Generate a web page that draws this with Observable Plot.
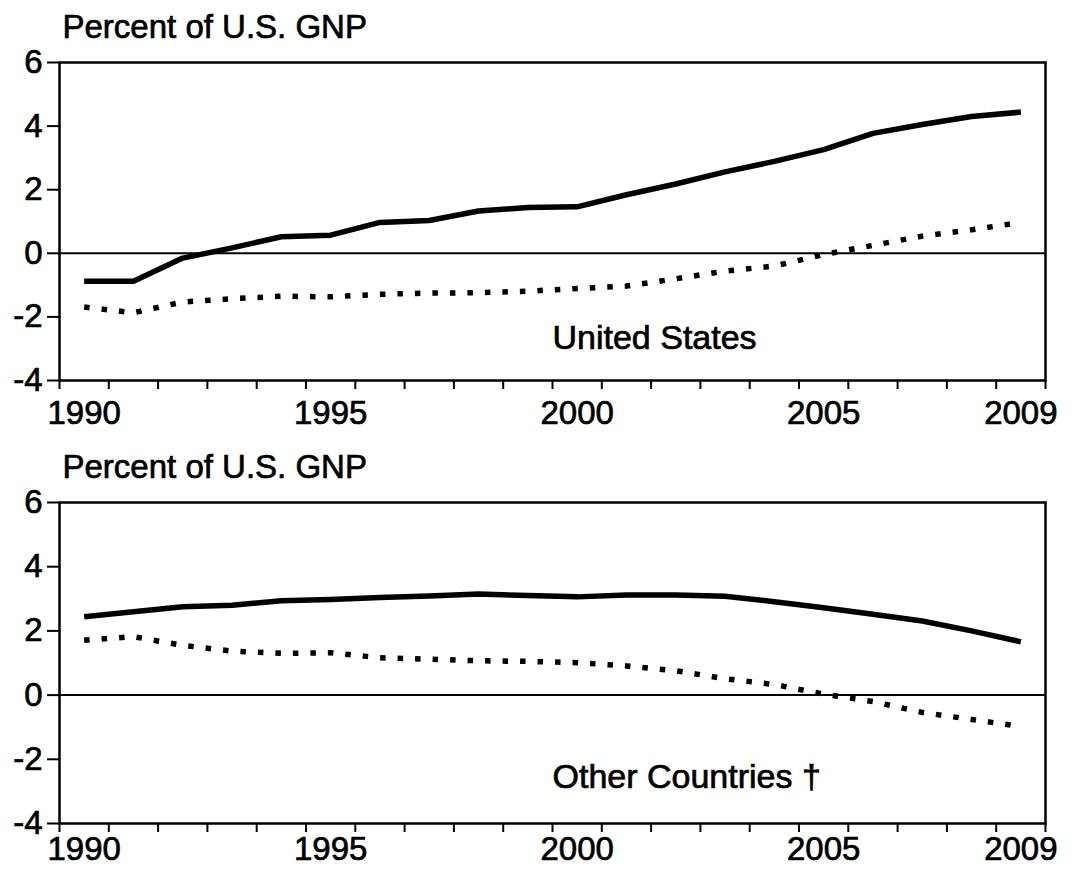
<!DOCTYPE html>
<html>
<head>
<meta charset="utf-8">
<script src="https://cdn.jsdelivr.net/npm/d3@7"></script>
<script src="https://cdn.jsdelivr.net/npm/@observablehq/plot@0.6"></script>
<style>
  html, body { margin: 0; padding: 0; background: #fff; }
  #chart svg { display: block; }
  #chart text { stroke: #000; stroke-width: 0.7px; paint-order: stroke; }
</style>
</head>
<body>
<div id="chart"></div>
<script>
const years = [1990,1991,1992,1993,1994,1995,1996,1997,1998,1999,2000,2001,2002,2003,2004,2005,2006,2007,2008,2009];
const usSolid    = [-0.88,-0.88,-0.15,0.17,0.52,0.57,0.97,1.03,1.33,1.44,1.46,1.84,2.18,2.56,2.89,3.26,3.77,4.05,4.30,4.44];
const usDotted   = [-1.69,-1.87,-1.53,-1.43,-1.35,-1.37,-1.29,-1.25,-1.24,-1.19,-1.11,-1.03,-0.80,-0.56,-0.40,-0.04,0.25,0.54,0.74,0.97];
const otherSolid = [2.44,2.60,2.75,2.80,2.94,2.98,3.04,3.09,3.15,3.10,3.06,3.12,3.12,3.08,2.91,2.72,2.52,2.31,2.00,1.66];
const otherDotted= [1.71,1.82,1.55,1.37,1.30,1.32,1.16,1.12,1.07,1.05,1.01,0.91,0.76,0.51,0.33,0.03,-0.20,-0.54,-0.76,-0.98];
const xTickLabels = [1990,1995,2000,2005,2009];
const yTicks = [-4,-2,0,2,4,6];
const yTitle = "Percent of U.S. GNP";
const panelNames = ["United States", "Other Countries \u2020"];

const FONT = "'Liberation Sans', Arial, Helvetica, sans-serif";
const boundaries = d3.range(years.length + 1).map(i => years[0] - 0.5 + i);

function panel(solid, dotted, name, opts) {
  const solidData = years.map((y, i) => ({year: y, value: solid[i]}));
  const dottedData = years.map((y, i) => ({year: y, value: dotted[i]}));
  return Plot.plot({
    width: 1081,
    height: opts.height,
    marginLeft: 59,
    marginRight: 36,
    marginTop: opts.marginTop,
    marginBottom: opts.marginBottom,
    style: {fontSize: "32px", fontFamily: FONT, color: "#000", background: "#fff"},
    x: {domain: [boundaries[0], boundaries[boundaries.length - 1]], axis: null},
    y: {domain: [-4, 6], axis: null},
    marks: [
      Plot.ruleY([0], {stroke: "#000", strokeWidth: 2}),
      Plot.frame({stroke: "#000", strokeWidth: 2.5}),
      Plot.axisY(yTicks, {anchor: "left", tickSize: 12, tickPadding: 5, strokeWidth: 2, tickFormat: d => String(d), label: null, fontSize: 33}),
      Plot.axisX(boundaries, {anchor: "bottom", tickSize: 9, strokeWidth: 2, tickFormat: () => "", label: null}),
      Plot.axisX(xTickLabels, {anchor: "bottom", tickSize: 0, tickPadding: opts.labelPad, tickFormat: d => String(d), label: null, fontSize: 33}),
      Plot.lineY(solidData, {x: "year", y: "value", stroke: "#000", strokeWidth: 5.5, strokeLinecap: "butt", strokeLinejoin: "round"}),
      Plot.lineY(dottedData, {x: "year", y: "value", stroke: "#000", strokeWidth: 5.5, strokeDasharray: "5.5 12", strokeLinecap: "butt"}),
      Plot.text([yTitle], {frameAnchor: "top-left", textAnchor: "start", lineAnchor: "bottom", dx: 3, dy: -25, fontSize: 33, letterSpacing: "0.4px"}),
      Plot.text([name], {x: 1999.5, y: opts.labelValue, textAnchor: "start", lineAnchor: "bottom", fontSize: 34, letterSpacing: "0.6px"})
    ]
  });
}

const chart = document.getElementById("chart");
chart.appendChild(panel(usSolid, usDotted, panelNames[0], {height: 440, marginTop: 62, marginBottom: 60, labelPad: 20, labelValue: -3}));
chart.appendChild(panel(otherSolid, otherDotted, panelNames[1], {height: 434, marginTop: 62, marginBottom: 51, labelPad: 13, labelValue: -2.9}));
</script>
</body>
</html>
